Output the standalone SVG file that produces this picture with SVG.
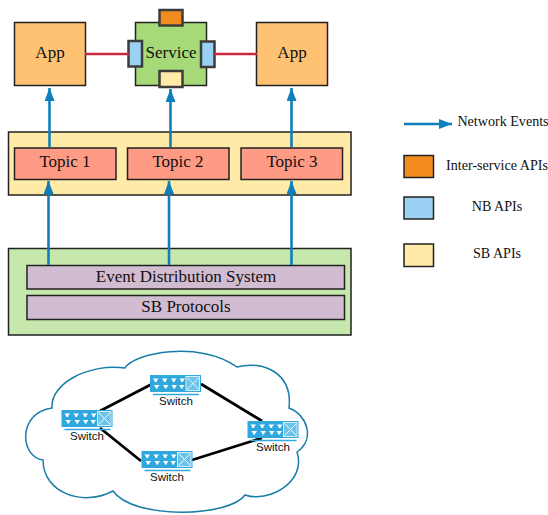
<svg xmlns="http://www.w3.org/2000/svg" width="548" height="515" viewBox="0 0 548 515">
<style>
text{font-family:"Liberation Serif",serif;fill:#111;text-anchor:middle}
.b{stroke:#222;stroke-width:1.5}
.p{stroke:#3c3c3c;stroke-width:2.5}
.e{stroke:#0f7fbc;stroke-width:2.6;fill:none;marker-end:url(#a)}
.r{stroke:#c8283c;stroke-width:2.5;fill:none}
.k{stroke:#000;stroke-width:2.8;fill:none}
.s{font-family:"Liberation Sans",sans-serif;font-size:11.5px}
.l{font-size:14.1px}
.m{font-size:17px}
</style>
<defs>
<marker id="a" markerUnits="userSpaceOnUse" markerWidth="14" markerHeight="12" refX="13" refY="5" orient="auto"><path d="M0 0L13 5L0 10Z" fill="#0f7fbc"/></marker>
<g id="sw">
<rect x="0" y="0" width="51" height="17" fill="#30a8de"/>
<rect x="36" y="1.500" width="13.500" height="14" fill="#6cc4ea" stroke="#d5edf8" stroke-width="1"/>
<path d="M37 2.500L49 14.500M49 2.500L37 14.500" stroke="#eef8fc" stroke-width="1"/>
<path d="M3 3.500h5.500l-1.800 2.500v1h-2v-1zM12 3.500h5.500l-1.800 2.500v1h-2v-1zM21 3.500h5.500l-1.800 2.500v1h-2v-1zM29.500 3.500h5.500l-1.800 2.500v1h-2v-1zM4 10h5.500l-1.800 2.500v1h-2v-1zM13 10h5.500l-1.800 2.500v1h-2v-1zM21.500 10h5.500l-1.800 2.500v1h-2v-1zM29 10h5.500l-1.800 2.500v1h-2v-1z" fill="#fff"/>
<path d="M3 19.500H49" stroke="#30a8de" stroke-width="1.300"/>
</g>
</defs>
<g id="app1"><rect class="b" x="14.500" y="22.500" width="71" height="63" fill="#ffc273"/><text x="50" y="58" class="m">App</text></g>
<g id="service">
<rect class="b" x="135.500" y="22.500" width="71" height="63" fill="#a6da78"/>
<text x="171" y="58" class="m">Service</text>
<rect class="p" x="159.500" y="10" width="23" height="15.500" fill="#f38c20"/>
<rect class="p" x="159.500" y="71" width="23" height="16" fill="#ffeaa7"/>
<rect class="p" x="128.500" y="41" width="13.500" height="25.500" fill="#9bd2f3"/>
<rect class="p" x="201" y="41.500" width="13.500" height="25.500" fill="#9bd2f3"/>
</g>
<g id="app2"><rect class="b" x="256.500" y="22.500" width="71" height="63" fill="#ffc273"/><text x="292" y="58" class="m">App</text></g>
<g id="topics">
<rect class="b" x="8.500" y="132" width="342.500" height="63" fill="#ffeaa7"/>
<rect class="b" x="14.500" y="148" width="101.500" height="31.500" fill="#ff9b85"/><text x="65" y="167" class="m">Topic 1</text>
<rect class="b" x="127.500" y="148" width="101.500" height="31.500" fill="#ff9b85"/><text x="178" y="167" class="m">Topic 2</text>
<rect class="b" x="241" y="148" width="101.500" height="31.500" fill="#ff9b85"/><text x="292" y="167" class="m">Topic 3</text>
</g>
<g id="eds">
<rect class="b" x="8.500" y="248.500" width="342.500" height="86.500" fill="#c7e8ac"/>
<rect class="b" x="27" y="265.500" width="317.500" height="23.500" fill="#d1bcd2"/><text x="186" y="282" class="m">Event Distribution System</text>
<rect class="b" x="27" y="295.500" width="317.500" height="24" fill="#d1bcd2"/><text x="186" y="312" class="m">SB Protocols</text>
</g>
<g id="connectors">
<path class="r" d="M85 54H129M214 54H257"/>
<path class="e" d="M49.500 147V88"/>
<path class="e" d="M170.500 147V89"/>
<path class="e" d="M291.500 147V88"/>
<path class="e" d="M48.500 265V181"/>
<path class="e" d="M169 265V181"/>
<path class="e" d="M291.500 265V181"/>
</g>
<g id="legend">
<path class="e" d="M404 124H452"/>
<text x="503" y="126" class="l">Network Events</text>
<rect class="b" x="404" y="155.500" width="29.500" height="22" fill="#f38c20"/>
<text x="497" y="170" class="l">Inter-service APIs</text>
<rect class="b" x="404" y="197" width="29.500" height="22" fill="#9bd2f3"/>
<text x="497" y="211" class="l">NB APIs</text>
<rect class="b" x="404" y="244" width="29.500" height="22.500" fill="#ffeaa7"/>
<text x="497" y="258" class="l">SB APIs</text>
</g>
<g id="cloud">
<path fill="none" stroke="#1a7ca8" stroke-width="1.500" d="M52 408C50 383 90 363 125 368C133 353 200 340 237 367C263 360 293 373 289 408C308 415 315 440 297 452C307 483 267 503 245 495C230 517 133 520 113 491C83 507 43 493 43 460C20 457 17 413 52 408Z"/>
</g>
<g id="links">
<path class="k" d="M100 411L152 384M201 384L262 421M100 428L141 461M192 460L262 438"/>
</g>
<g id="switch1"><use href="#sw" x="150" y="375"/><text class="s" x="176" y="405">Switch</text></g>
<g id="switch2"><use href="#sw" x="61.500" y="410"/><text class="s" x="87" y="440">Switch</text></g>
<g id="switch3"><use href="#sw" x="247.500" y="421"/><text class="s" x="273" y="451">Switch</text></g>
<g id="switch4"><use href="#sw" x="141.500" y="451"/><text class="s" x="167" y="481">Switch</text></g>
</svg>
